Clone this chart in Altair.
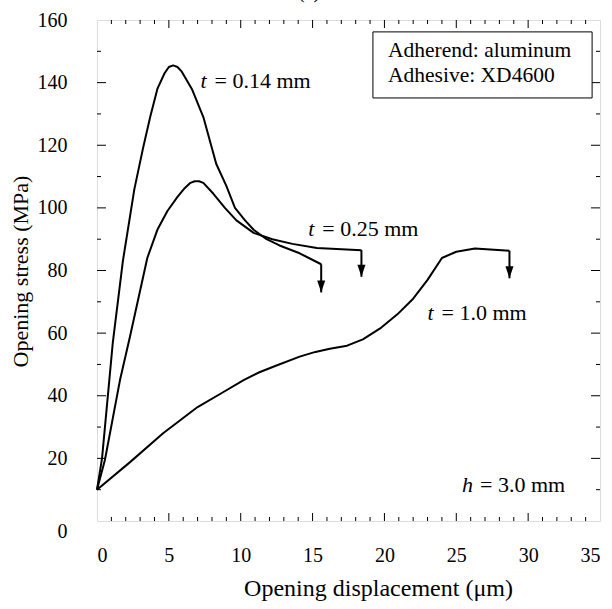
import altair as alt
import pandas as pd

# Opening stress vs. opening displacement for three adhesive thicknesses
x_t014 = [0, 0.35, 1.1, 1.8, 2.6, 3.2, 3.7, 4.2, 4.7, 5.0, 5.3, 5.6, 5.9, 6.6, 7.4, 8.3, 9.0, 9.6, 10.3, 10.9, 11.8, 12.7, 14.1, 15.6]
y_t014 = [10, 20, 57, 83, 106, 119, 129, 138, 143, 145, 145.5, 145, 143.5, 138, 129, 114, 107, 100, 96, 93, 90, 88, 85.5, 82]

x_t025 = [0, 0.55, 1.6, 2.3, 3.5, 4.2, 4.9, 5.6, 6.1, 6.5, 6.8, 7.1, 7.4, 8.1, 8.9, 9.7, 10.9, 12.2, 13.6, 15.3, 18.4]
y_t025 = [10, 19.5, 45, 59, 84, 93, 99, 103.5, 106.3, 108, 108.5, 108.5, 108, 104.5, 100, 96, 92, 90, 88.5, 87.2, 86.5]

x_t10 = [0, 2.3, 4.6, 7.0, 8.8, 10.2, 11.3, 12.4, 14.1, 15.2, 16.2, 17.4, 18.5, 19.7, 20.9, 22.0, 23.0, 24.0, 25.0, 26.3, 28.7]
y_t10 = [10, 18.8, 28, 36.4, 41.2, 45, 47.5, 49.5, 52.5, 54, 55, 56, 58, 61.5, 66, 71, 77, 84, 86, 87, 86.3]

# Failure arrows at the end of each curve
arrow_x = [15.6, 18.4, 28.7]
arrow_top = [82, 86.5, 86.3]
arrow_tip = [73, 78, 77.5]

# Curve annotations (italic variable + remainder)
lbl_var = ["t", "t", "t", "h"]
lbl_rest = ["= 0.14 mm", "= 0.25 mm", "= 1.0 mm", "= 3.0 mm"]
lbl_x = [7.2, 14.7, 23.0, 25.4]
lbl_y = [138.3, 91.0, 64.2, 9.3]
lbl_dx = [14, 14, 14, 18]

# Material note box
note_lines = ["Adherend: aluminum", "Adhesive: XD4600"]
note_y = [148.2, 140.3]
note_x = 20.25
box_x, box_x2, box_y, box_y2 = 19.2, 34.45, 156.2, 135.1

x_ticks = [0, 5, 10, 15, 20, 25, 30, 35]
y_ticks = [0, 20, 40, 60, 80, 100, 120, 140, 160]
x_minor = [v for v in range(1, 35) if v % 5]
x_major = [5, 10, 15, 20, 25, 30]
y_minor = [10, 30, 50, 70, 90, 110, 130, 150]
y_major = [20, 40, 60, 80, 100, 120, 140]

W, H = 503, 501
FONT = "'Liberation Serif', 'Times New Roman', 'DejaVu Serif', serif"

xs = alt.Scale(domain=[0, 35], nice=False, zero=False)
ys = alt.Scale(domain=[0, 160], nice=False, zero=False)

curves = pd.concat([
    pd.DataFrame({"series": name, "i": range(len(xv)), "x": xv, "y": yv})
    for name, xv, yv in [("t014", x_t014, y_t014), ("t025", x_t025, y_t025), ("t10", x_t10, y_t10)]
])

base_x = alt.X("x:Q", scale=xs, axis=alt.Axis(
    values=x_ticks, ticks=False, domain=False, grid=False, labelFont=FONT, labelFontSize=20,
    labelColor="black", labelPadding=24, title="Opening displacement (\u03bcm)", titleFont=FONT,
    titleFontSize=24, titleFontWeight="normal", titleColor="black", titleX=281, titleY=67,
    titleBaseline="middle", titleAlign="center"))
base_y = alt.Y("y:Q", scale=ys, axis=alt.Axis(
    values=y_ticks, ticks=False, domain=False, grid=False, labelFont=FONT, labelFontSize=20,
    labelColor="black", labelPadding=30,
    labelBaseline=alt.ExprRef(expr="datum.value == 0 ? 'top' : 'middle'"),
    title="Opening stress (MPa)", titleFont=FONT, titleFontSize=22, titleFontWeight="normal",
    titleColor="black", titleX=-77, titleY=251, titleAngle=-90, titleBaseline="middle",
    titleAlign="center"))

lines = alt.Chart(curves).mark_line(color="black", strokeWidth=2, strokeJoin="round").encode(
    x=base_x, y=base_y, detail="series:N", order="i:Q")

arr = pd.DataFrame({"x": arrow_x, "top": arrow_top, "tip": arrow_tip})
stems = alt.Chart(arr).mark_rule(color="black", strokeWidth=2).encode(
    x=alt.X("x:Q", scale=xs), y=alt.Y("top:Q", scale=ys), y2="tip:Q")
heads = alt.Chart(arr).mark_point(
    shape="M-0.67,-2L0.67,-2L0,0Z", filled=True, color="black", opacity=1, size=144).encode(
    x=alt.X("x:Q", scale=xs), y=alt.Y("tip:Q", scale=ys))

lbl = pd.DataFrame({"v": lbl_var, "r": lbl_rest, "x": lbl_x, "y": lbl_y, "dx": lbl_dx})
lbl_v = alt.Chart(lbl).mark_text(font=FONT, fontSize=22, fontStyle="italic", align="left",
                                 baseline="alphabetic", color="black").encode(
    x=alt.X("x:Q", scale=xs), y=alt.Y("y:Q", scale=ys), text="v:N")
lbl_r = []
for dx in sorted(set(lbl_dx)):
    sub = lbl[lbl["dx"] == dx]
    lbl_r.append(alt.Chart(sub).mark_text(font=FONT, fontSize=22, align="left", dx=dx,
                                          baseline="alphabetic", color="black").encode(
        x=alt.X("x:Q", scale=xs), y=alt.Y("y:Q", scale=ys), text="r:N"))

box = alt.Chart(pd.DataFrame({"x": [box_x], "x2": [box_x2], "y": [box_y], "y2": [box_y2]})).mark_rect(
    fill="white", stroke="black", strokeWidth=1).encode(
    x=alt.X("x:Q", scale=xs), x2="x2:Q", y=alt.Y("y:Q", scale=ys), y2="y2:Q")
note = alt.Chart(pd.DataFrame({"t": note_lines, "y": note_y, "x": [note_x] * 2})).mark_text(
    font=FONT, fontSize=21.5, align="left", baseline="alphabetic", color="black").encode(
    x=alt.X("x:Q", scale=xs), y=alt.Y("y:Q", scale=ys), text="t:N")

panel = alt.Chart(pd.DataFrame({"t": ["(a)"], "x": [14.75]})).mark_text(
    font=FONT, fontSize=20, align="center", baseline="alphabetic", color="black").encode(
    x=alt.X("x:Q", scale=xs), y=alt.value(-22), text="t:N")

# Inward tick marks on all four sides of the frame
def xticks(vals, length, top):
    y0, y1 = (0, length) if top else (H, H - length)
    return alt.Chart(pd.DataFrame({"v": vals})).mark_rule(color="black", strokeWidth=1).encode(
        x=alt.X("v:Q", scale=xs), y=alt.value(y0), y2=alt.value(y1))

def yticks(vals, length, right):
    x0, x1 = (W, W - length) if right else (0, length)
    return alt.Chart(pd.DataFrame({"v": vals})).mark_rule(color="black", strokeWidth=1).encode(
        y=alt.Y("v:Q", scale=ys), x=alt.value(x0), x2=alt.value(x1))

ticks = [
    xticks(x_major, 8, False), xticks(x_minor, 4, False),
    xticks(x_major, 8, True), xticks(x_minor, 4, True),
    yticks(y_major, 9, False), yticks(y_minor, 4, False),
    yticks(y_major, 9, True), yticks(y_minor, 4, True),
]

chart = alt.layer(lines, *ticks, stems, heads, box, note, lbl_v, *lbl_r, panel).properties(
    width=W, height=H,
    padding={"left": 97, "top": 20, "right": 12, "bottom": 88},
    autosize=alt.AutoSizeParams(type="none"),
).configure_view(stroke="#222", strokeWidth=1).configure(background="white")

chart.save("out.html", embed_options={"renderer": "svg", "actions": False})
